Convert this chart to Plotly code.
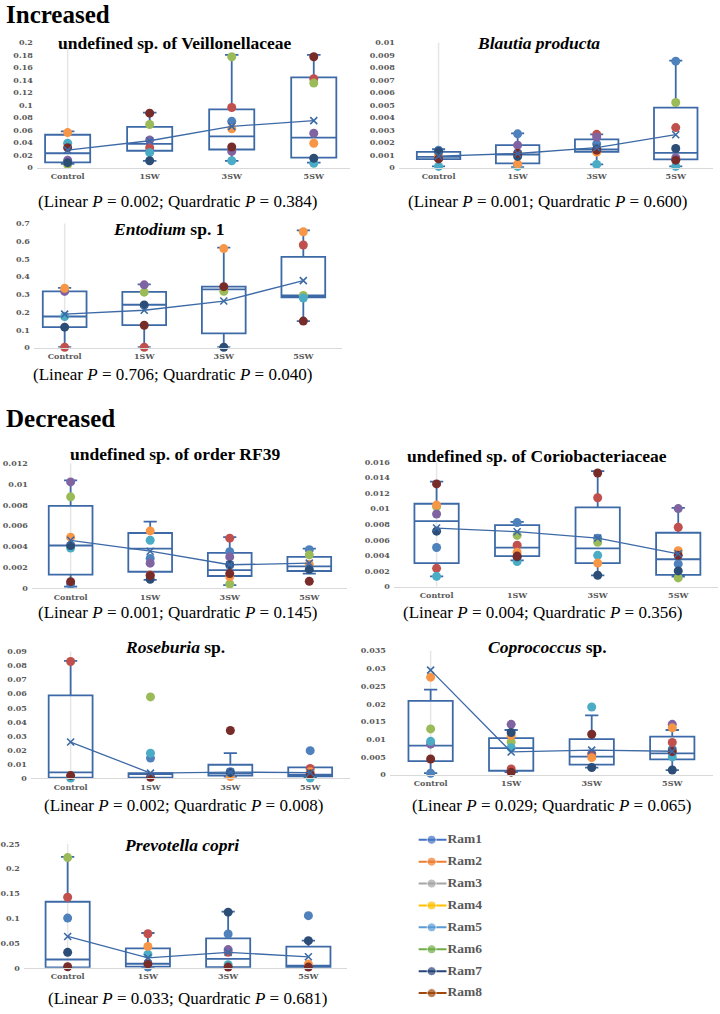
import plotly.graph_objects as go

W, H = 720, 1014

# ---------------- data ----------------
CATS = ["Control", "1SW", "3SW", "5SW"]
RAMS = ["Ram1", "Ram2", "Ram3", "Ram4", "Ram5", "Ram6", "Ram7", "Ram8"]
LEGEND_COLORS = ["#4472C4", "#ED7D31", "#A5A5A5", "#FFC000",
                 "#5B9BD5", "#70AD47", "#264478", "#9E480E"]
# colours of the individual points drawn inside the boxes
POINT_COLORS = ["#4F81BD", "#C0504D", "#9BBB59", "#8064A2",
                "#4BACC6", "#F79646", "#2C4D75", "#772C2A"]

# 1. undefined sp. of Veillonellaceae
veil_q1 = [0.0084, 0.027, 0.029, 0.016]
veil_med = [0.023, 0.038, 0.050, 0.048]
veil_q3 = [0.0526, 0.065, 0.093, 0.144]
veil_lo = [0.006, 0.011, 0.011, 0.008]
veil_hi = [0.058, 0.088, 0.18, 0.18]
veil_mean = [0.028, 0.043, 0.066, 0.075]
veil_pts = [[None, None, 0.005, 0.012, 0.039, 0.056, 0.008, 0.032],
            [None, 0.032, 0.069, 0.044, 0.024, None, 0.011, 0.087],
            [0.074, 0.096, 0.177, 0.026, 0.011, 0.062, None, 0.033],
            [None, 0.142, 0.135, 0.055, 0.007, 0.039, 0.015, 0.177]]

# 2. Blautia producta
blau_q1 = [0.00068, 0.00034, 0.00126, 0.00066]
blau_med = [0.00087, 0.00105, 0.00145, 0.00118]
blau_q3 = [0.00126, 0.0018, 0.00226, 0.0048]
blau_lo = [0.0001, 0.00005, 0.00026, 0.0001]
blau_hi = [0.00147, 0.00274, 0.00266, 0.00855]
blau_mean = [0.00093, 0.00113, 0.0016, 0.00263]
blau_pts = [[0.0014, None, None, None, 0.0001, 0.001, 0.0013, 0.0007],
            [0.0027, 0.0002, None, 0.0018, 0.0001, 0.0003, 0.0009, 0.00116],
            [0.0019, 0.00266, None, 0.00245, 0.00026, 0.00124, 0.0015, 0.0014],
            [0.0085, 0.0032, 0.0052, 0.0008, 0.0001, None, 0.00153, 0.0006]]

# 3. Entodium sp. 1
ento_q1 = [0.115, 0.126, 0.08, 0.282]
ento_med = [0.175, 0.241, 0.327, 0.293]
ento_q3 = [0.316, 0.314, 0.343, 0.51]
ento_lo = [0.002, 0.002, 0.002, 0.149]
ento_hi = [0.336, 0.356, 0.563, 0.66]
ento_mean = [0.188, 0.21, 0.262, 0.377]
ento_pts = [[None, 0.002, None, 0.316, 0.175, 0.334, 0.115, None],
            [None, 0.002, 0.312, 0.353, None, None, 0.24, 0.126],
            [None, None, 0.317, None, None, 0.557, 0.002, 0.343],
            [None, 0.577, 0.293, None, 0.279, 0.652, None, 0.149]]

# 4. undefined sp. of order RF39
rf39_q1 = [0.0013, 0.00158, 0.00117, 0.00165]
rf39_med = [0.0041, 0.0038, 0.00174, 0.0021]
rf39_q3 = [0.0079, 0.0053, 0.0034, 0.003]
rf39_lo = [0.00016, 0.0008, 0.0003, 0.0014]
rf39_hi = [0.01035, 0.0064, 0.0049, 0.0038]
rf39_mean = [0.0046, 0.00355, 0.00225, 0.0024]
rf39_pts = [[0.0004, None, 0.00877, 0.0102, 0.00386, 0.0049, 0.0041, 0.00063],
            [0.00285, 0.00127, None, 0.0024, 0.0046, 0.0055, 0.00085, 0.0012],
            [0.0035, 0.0048, 0.0004, 0.003, None, 0.0011, 0.00225, 0.0014],
            [0.0037, None, 0.0032, None, None, 0.0023, 0.0018, 0.00066]]

# 5. undefined sp. of Coriobacteriaceae
cori_q1 = [0.003, 0.0039, 0.003, 0.0015]
cori_med = [0.0084, 0.005, 0.0049, 0.0035]
cori_q3 = [0.01062, 0.00787, 0.01016, 0.0069]
cori_lo = [0.0013, 0.00334, 0.00144, 0.00127]
cori_hi = [0.01346, 0.0083, 0.0148, 0.0101]
cori_mean = [0.0075, 0.00703, 0.0062, 0.0042]
cori_pts = [[0.005, 0.00233, 0.01024, 0.0093, 0.0013, 0.01045, 0.0071, 0.01316],
            [0.0082, 0.0053, 0.00656, None, 0.0032, 0.0044, 0.0038, 0.0039],
            [0.0062, 0.01139, 0.00567, None, 0.004, 0.003, 0.00144, 0.01456],
            [0.0029, 0.0076, 0.0011, 0.01, None, 0.0046, 0.002, 0.004]]

# 6. Roseburia sp.
rose_q1 = [0.0005, 0.0005, 0.0019, 0.0014]
rose_med = [0.0042, 0.003, 0.0035, 0.0026]
rose_q3 = [0.0587, 0.0037, 0.0096, 0.0077]
rose_lo = [0.0005, 0.0005, 0.0012, 0.0002]
rose_hi = [0.0832, 0.0037, 0.0178, 0.0077]
rose_mean = [0.0257, 0.0037, 0.0044, 0.004]
rose_pts = [[None, 0.0828, None, None, 0.0002, None, None, 0.0019],
            [0.0143, None, 0.0577, None, 0.0178, None, None, 0.0007],
            [0.0047, None, None, None, None, 0.0012, 0.004, 0.0339],
            [0.0196, 0.007, None, None, 0.0002, 0.0047, None, 0.003]]

# 7. Coprococcus sp.
copr_q1 = [0.0038, 0.0011, 0.0028, 0.0043]
copr_med = [0.0082, 0.0075, 0.0051, 0.006]
copr_q3 = [0.0208, 0.0103, 0.01, 0.0107]
copr_lo = [0.0004, 0.0007, 0.002, 0.0013]
copr_hi = [0.024, 0.0126, 0.0167, 0.0126]
copr_mean = [0.0295, 0.0064, 0.0069, 0.0066]
copr_pts = [[0.0004, None, 0.0129, 0.0086, 0.0094, 0.0275, None, 0.0044],
            [None, 0.0016, 0.0092, 0.0142, 0.0076, 0.011, 0.0119, 0.0007],
            [None, 0.0059, None, None, 0.0191, 0.0048, 0.002, 0.0114],
            [0.0072, 0.0091, None, 0.0142, 0.005, 0.0132, 0.0013, 0.0065]]

# 8. Prevotella copri
prev_q1 = [0.0007, 0.002, 0.0013, 0.0007]
prev_med = [0.0166, 0.008, 0.018, 0.004]
prev_q3 = [0.133, 0.039, 0.059, 0.0426]
prev_lo = [0.0007, 0.0007, 0.0007, 0.0007]
prev_hi = [0.2234, 0.07, 0.113, 0.0545]
prev_mean = [0.063, 0.02, 0.031, 0.022]
prev_pts = [[0.1, 0.142, 0.222, None, None, None, 0.031, 0.002],
            [0.0013, 0.0685, None, None, 0.027, 0.043, None, 0.008],
            [0.068, 0.031, None, 0.0366, 0.006, None, 0.112, 0.0013],
            [0.105, None, None, None, None, 0.0073, 0.0545, 0.0013]]

TITLES = ["<b>undefined sp. of Veillonellaceae</b>",
          "<b><i>Blautia producta</i></b>",
          "<b><i>Entodium</i> sp. 1</b>",
          "<b>undefined sp. of order RF39</b>",
          "<b>undefined sp. of Coriobacteriaceae</b>",
          "<b><i>Roseburia</i> sp.</b>",
          "<b><i>Coprococcus</i> sp.</b>",
          "<b><i>Prevotella copri</i></b>"]
LINEAR_P = ["0.002", "0.001", "0.706", "0.001", "0.004", "0.002", "0.029", "0.033"]
QUAD_P = ["0.384", "0.600", "0.040", "0.145", "0.356", "0.008", "0.065", "0.681"]
Y_MAX = [0.2, 0.01, 0.7, 0.012, 0.016, 0.09, 0.035, 0.25]
Y_STEP = [0.02, 0.001, 0.1, 0.002, 0.002, 0.01, 0.005, 0.05]

DATA = [
    (veil_q1, veil_med, veil_q3, veil_lo, veil_hi, veil_mean, veil_pts),
    (blau_q1, blau_med, blau_q3, blau_lo, blau_hi, blau_mean, blau_pts),
    (ento_q1, ento_med, ento_q3, ento_lo, ento_hi, ento_mean, ento_pts),
    (rf39_q1, rf39_med, rf39_q3, rf39_lo, rf39_hi, rf39_mean, rf39_pts),
    (cori_q1, cori_med, cori_q3, cori_lo, cori_hi, cori_mean, cori_pts),
    (rose_q1, rose_med, rose_q3, rose_lo, rose_hi, rose_mean, rose_pts),
    (copr_q1, copr_med, copr_q3, copr_lo, copr_hi, copr_mean, copr_pts),
    (prev_q1, prev_med, prev_q3, prev_lo, prev_hi, prev_mean, prev_pts),
]

# ---------------- layout geometry (pixels) ----------------
# left, right, top (y max), bottom (y = 0), control centre x, category spacing,
# title centre (x, y), caption centre (x, y)
GEOM = [
    (33, 348, 37.7, 164.3, 64, 82.5, (172, 38.3), (174, 198)),
    (397, 713, 37.7, 164.3, 437, 79.5, (537, 38), (547, 198)),
    (30, 340, 220.3, 346, 61, 80, (165, 226), (169, 373)),
    (28, 345, 462.7, 589, 67, 80, (172, 453), (174, 614)),
    (392, 718, 461.3, 587.3, 435, 81, (536, 455), (542, 614)),
    (27, 348, 652.7, 781, 67, 80.3, (172, 648), (180, 808)),
    (388, 713, 652, 777.3, 429, 81, (547, 648), (551, 808)),
    (20, 345, 847, 972.3, 64, 80.7, (178, 848), (185, 1003.7)),
]

BOX_COLOR = "#3D6AA6"
TICK_FONT = dict(family="DejaVu Serif", size=8, color="#595959", weight="bold")
SERIF = "Liberation Serif"


def px(x):
    return x / W


def py(y):
    return 1 - y / H


fig = go.Figure()
layout = dict(width=W, height=H, margin=dict(l=0, r=0, t=0, b=0),
              paper_bgcolor="white", plot_bgcolor="white", showlegend=False)
shapes = []
annotations = []
xpos = list(range(len(CATS)))

for i, (data, geom) in enumerate(zip(DATA, GEOM)):
    q1, med, q3, lo, hi, mean, pts = data
    L, R, T, B, C, S, tpos, cpos = geom
    n = i + 1
    xa = "x" if n == 1 else f"x{n}"
    ya = "y" if n == 1 else f"y{n}"

    fig.add_trace(go.Box(
        x=xpos, q1=q1, median=med, q3=q3, lowerfence=lo, upperfence=hi,
        xaxis=xa, yaxis=ya, width=0.55, whiskerwidth=0.3,
        line=dict(color=BOX_COLOR, width=1.8), fillcolor="rgba(0,0,0,0)",
        boxpoints=False, hoverinfo="skip", showlegend=False))

    for j, col in enumerate(POINT_COLORS):
        fig.add_trace(go.Scatter(
            x=xpos, y=[pts[c][j] for c in range(len(CATS))], mode="markers",
            xaxis=xa, yaxis=ya, cliponaxis=False,
            marker=dict(size=9, color=col), hoverinfo="skip", showlegend=False))

    fig.add_trace(go.Scatter(
        x=xpos, y=mean, mode="lines+markers", xaxis=xa, yaxis=ya,
        line=dict(color=BOX_COLOR, width=1.3),
        marker=dict(symbol="x-thin-open", size=7,
                    line=dict(color=BOX_COLOR, width=1.6), color=BOX_COLOR),
        cliponaxis=False, hoverinfo="skip", showlegend=False))

    r0 = -(C - L) / S
    r1 = (R - C) / S
    layout["xaxis" if n == 1 else f"xaxis{n}"] = dict(
        domain=[px(L), px(R)], range=[r0, r1], anchor=ya,
        tickvals=xpos, ticktext=CATS, tickfont=TICK_FONT,
        showline=True, linecolor="#D9D9D9", linewidth=1, ticklabelstandoff=1,
        showgrid=False, zeroline=False, ticks="", fixedrange=True)
    layout["yaxis" if n == 1 else f"yaxis{n}"] = dict(
        domain=[py(B), py(T)], range=[0, Y_MAX[i] * 1.0004], anchor=xa,
        dtick=Y_STEP[i], tick0=0, tickfont=TICK_FONT, ticklabelstandoff=3,
        showline=False, showgrid=False, zeroline=False, ticks="",
        fixedrange=True)

    shapes.append(dict(type="line", xref=xa, yref=ya, x0=0, x1=0,
                       y0=0, y1=Y_MAX[i], layer="below",
                       line=dict(color="#E6E6E6", width=1.5)))

    annotations.append(dict(x=px(tpos[0]), y=py(tpos[1]), xref="paper",
                            yref="paper", text=TITLES[i], showarrow=False,
                            xanchor="center", yanchor="middle",
                            font=dict(family=SERIF, size=17.5, color="black")))
    annotations.append(dict(
        x=px(cpos[0]), y=py(cpos[1]), xref="paper", yref="paper",
        text=f"(Linear <i>P</i> = {LINEAR_P[i]}; Quardratic <i>P</i> = {QUAD_P[i]})",
        showarrow=False, xanchor="center", yanchor="middle",
        font=dict(family=SERIF, size=17, color="black")))

# section headings
for txt, yc in (("Increased", 10), ("Decreased", 418)):
    annotations.append(dict(x=0, y=py(yc), xref="paper", yref="paper",
                            text=f"<b>{txt}</b>", showarrow=False,
                            xanchor="left", yanchor="middle",
                            font=dict(family=SERIF, size=25, color="black")))

# legend drawn in its own axis (x units = pixels from x = 410)
leg_x = "x9"
leg_y = "y9"
for k, (name, col) in enumerate(zip(RAMS, LEGEND_COLORS)):
    yk = k + 1
    fig.add_trace(go.Scatter(
        x=[7, 20, 35], y=[yk, yk, yk], mode="lines+markers",
        xaxis=leg_x, yaxis=leg_y, line=dict(color=col, width=2),
        marker=dict(size=[0, 9, 0], color=col), cliponaxis=False,
        hoverinfo="skip", showlegend=False))
fig.add_trace(go.Scatter(
    x=[36] * len(RAMS), y=[k + 1 for k in range(len(RAMS))], text=RAMS,
    mode="text", textposition="middle right", xaxis=leg_x, yaxis=leg_y,
    textfont=dict(family=SERIF, size=13.5, color="#595959", weight="bold"),
    cliponaxis=False, hoverinfo="skip", showlegend=False))
layout["xaxis9"] = dict(domain=[px(410), px(480)], range=[0, 70], anchor=leg_y,
                        visible=False, fixedrange=True)
layout["yaxis9"] = dict(domain=[py(1009), py(832)], range=[8.5, 0.5],
                        anchor=leg_x, visible=False, fixedrange=True)

layout["shapes"] = shapes
layout["annotations"] = annotations
fig.update_layout(**layout)

fig.write_html(
    "out.html", config={"displayModeBar": False},
    post_script="document.body.style.margin='0';"
                "document.body.style.overflow='hidden';")
